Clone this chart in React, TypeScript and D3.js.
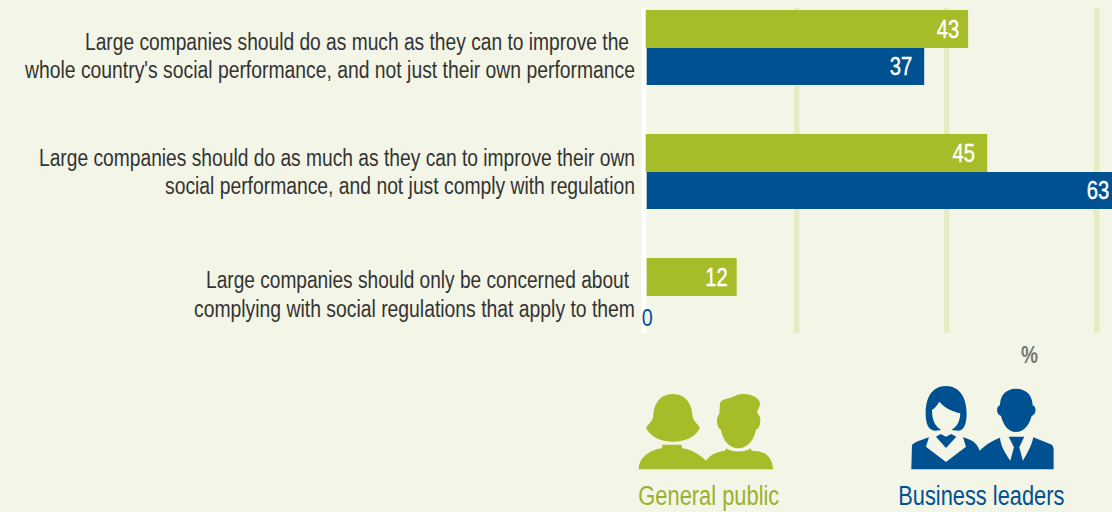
import React from "react";
import * as d3 from "d3";

const categories = [
  ["Large companies should do as much as they can to improve the", "whole country's social performance, and not just their own performance"],
  ["Large companies should do as much as they can to improve their own", "social performance, and not just comply with regulation"],
  ["Large companies should only be concerned about", "complying with social regulations that apply to them"],
];
const publicValues = [43, 45, 12];
const leaderValues: (number | null)[] = [37, 63, null];
// bar lengths as drawn in the picture, which differ slightly from the printed labels
const publicBars = [42.85, 45.4, 12];
const leaderBars: (number | null)[] = [37, 63, null];
const gridTicks = [0, 20, 40, 60];

const GREEN = "#a6bc28";
const BLUE = "#005192";
const BG = "#f3f6e6";
const FONT = "'Liberation Sans', Arial, sans-serif";

const x = d3.scaleLinear().domain([0, 60]).range([646.7, 1096.7]);
const groupY = d3.scaleOrdinal<number, number>().domain([0, 1, 2]).range([10, 134, 258]);

const labelEnds = [[629, 635], [635, 635], [629, 635]];
const labelWidths = [[544, 610], [596, 470], [423, 441]];
const labelBase = [[49.5, 78], [166, 194], [287.5, 317]];
const pubLabelEnd = [959.3, 975, 727.7];
const leadLabelEnd = [912.3, 1109.3];

export default function App() {
  return (
    <svg width={1112} height={512} style={{ position: "absolute", left: 0, top: 0, background: BG }} fontFamily={FONT}>
      <rect width={1112} height={512} fill={BG} />
      {gridTicks.slice(1).map((t) => (
        <line key={t} x1={x(t)} x2={x(t)} y1={8} y2={333} stroke="#e5ecc4" strokeWidth={5.5} />
      ))}
      <line x1={x(0) - 2.7} x2={x(0) - 2.7} y1={8} y2={333} stroke="#ffffff" strokeWidth={5} />
      {categories.map((lines, i) => {
        const y0 = groupY(i);
        const pub = publicValues[i];
        const lead = leaderValues[i];
        const pubBar = publicBars[i];
        const leadBar = leaderBars[i];
        const inset = i < 2 ? 1 : 0;
        return (
          <g key={i}>
            {lines.map((l, j) => (
              <text key={j} x={labelEnds[i][j]} y={labelBase[i][j]} textAnchor="end" fontSize={23} fill="#333333"
                textLength={labelWidths[i][j]} lengthAdjust="spacingAndGlyphs">{l}</text>
            ))}
            <rect x={x(0) - inset} y={y0} width={x(pubBar) - x(0) + inset} height={38} fill={GREEN} />
            <text x={pubLabelEnd[i]} y={y0 + 27.5} textAnchor="end" fontSize={25} fill="#fff" stroke="#fff" strokeWidth={0.4}
              textLength={22.5} lengthAdjust="spacingAndGlyphs">{pub}</text>
            {lead !== null && leadBar !== null && (
              <>
                <rect x={x(0)} y={y0 + 38} width={x(leadBar) - x(0)} height={37} fill={BLUE} />
                <text x={leadLabelEnd[i]} y={y0 + 65} textAnchor="end" fontSize={25} fill="#fff" stroke="#fff" strokeWidth={0.4}
                  textLength={22.5} lengthAdjust="spacingAndGlyphs">{lead}</text>
              </>
            )}
          </g>
        );
      })}
      <text x={641.7} y={326} fontSize={24} fill={BLUE} textLength={11} lengthAdjust="spacingAndGlyphs">0</text>
      <text x={1021} y={363.3} fontSize={23} fontWeight="bold" fill="#777777" textLength={17} lengthAdjust="spacingAndGlyphs">%</text>
      <g transform="translate(620,240) scale(0.3333)">
        <g fill={GREEN}>
          <path d="M158 462 C112 462 100 505 100 530 C96 545 85 552 78 563 C90 590 125 605 158 605 C195 605 228 590 240 563 C232 550 222 545 218 530 C216 495 200 462 158 462 Z" />
          <path d="M56 688 C58 650 90 630 126 625 L127 614 L185 614 L186 625 C215 628 240 645 258 662 C272 642 295 634 316 632 L318 625 C335 638 375 638 392 625 L395 632 C435 632 458 650 459 688 Z" />
          <path d="M300 490 C305 475 325 478 345 468 C370 455 415 465 420 490 C420 505 410 510 412 520 C425 530 425 560 408 570 C400 605 380 625 355 625 C330 625 310 605 303 570 C288 560 288 530 298 522 Z" />
        </g>
        <g fill={BLUE}>
          <path fillRule="evenodd" d="M978 438 C935 438 917 475 917 520 C917 550 925 572 945 572 L964 570 C945 560 936 540 936 510 C945 505 952 495 958 485 C975 505 1000 515 1021 520 C1020 545 1010 562 994 570 L1015 572 C1035 572 1040 545 1040 520 C1040 475 1020 438 978 438 Z" />
          <path d="M948 590 L962 582 L978 590 L994 582 L1009 590 L978 624 Z" />
          <path d="M874 688 L876 615 C885 605 912 598 927 592 L918 620 L978 666 L1038 620 L1029 592 C1050 598 1070 605 1079 632 C1095 615 1120 600 1140 593 C1142 620 1160 645 1171 662 L1182 622 L1166 590 L1213 590 L1198 622 L1209 662 C1222 640 1236 615 1240 592 L1296 614 L1301 625 L1301 688 Z" />
          <path d="M1188 446 C1155 446 1140 470 1140 496 C1128 498 1128 525 1143 528 C1150 555 1165 576 1188 576 C1212 576 1228 555 1235 528 C1250 525 1250 498 1238 496 C1238 470 1222 446 1188 446 Z" />
        </g>
      </g>
      <text x={638.3} y={505} fontSize={27} fill="#9cb02c" textLength={141} lengthAdjust="spacingAndGlyphs">General public</text>
      <text x={898.3} y={505} fontSize={27} fill={BLUE} textLength={166} lengthAdjust="spacingAndGlyphs">Business leaders</text>
    </svg>
  );
}
